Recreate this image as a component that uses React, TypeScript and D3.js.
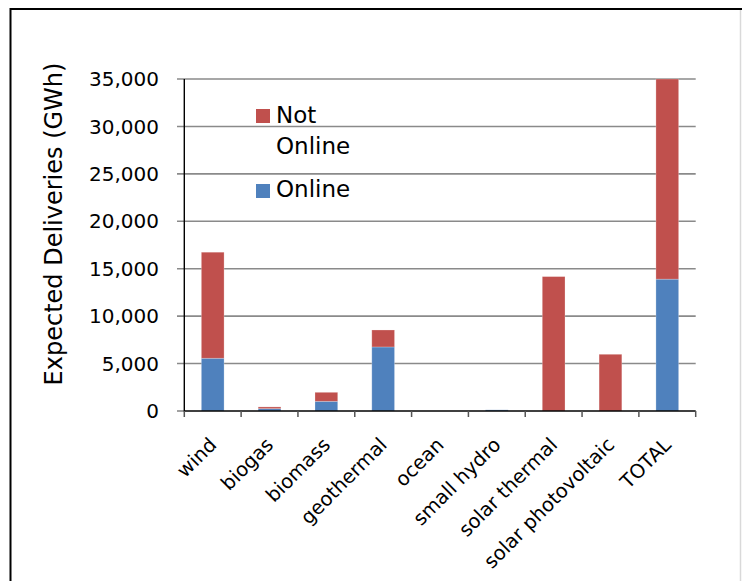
import React from "react";
import * as d3 from "d3";

const categories = ["wind", "biogas", "biomass", "geothermal", "ocean", "small hydro", "solar thermal", "solar photovoltaic", "TOTAL"];
const online = [5560, 250, 1020, 6750, 0, 120, 0, 0, 13900];
const notOnline = [11180, 180, 950, 1790, 0, 0, 14170, 5980, 21100];
const yTicks = [0, 5000, 10000, 15000, 20000, 25000, 30000, 35000];
const seriesNames = ["Not Online", "Online"];
const colors = { online: "#4F81BD", notOnline: "#C0504D" };

const FONT = "'DejaVu Sans', sans-serif";

export default function App() {
  const W = 742, H = 581;
  const x0 = 184.3, x1 = 695.7, yTop = 79, yBot = 411;
  const x = d3.scaleBand<string>().domain(categories).range([x0, x1]).padding(0);
  const y = d3.scaleLinear().domain([0, 35000]).range([yBot, yTop]);
  const bw = x.bandwidth() * 0.4;
  const fmt = d3.format(",");

  const stacked = d3.stack<number>().keys(["online", "notOnline"]).value((i, k) => (k === "online" ? online[i] : notOnline[i]))(categories.map((_, i) => i) as any);

  return (
    <svg width={W} height={H} style={{ position: "absolute", left: 0, top: 0, background: "#fff" }} fontFamily={FONT}>
      <rect x={0} y={0} width={W} height={H} fill="#fff" />
      {/* frame */}
      <line x1={10} y1={9} x2={742} y2={9} stroke="#000" strokeWidth={2} />
      <line x1={10.5} y1={8} x2={10.5} y2={H} stroke="#000" strokeWidth={2} />
      <line x1={740.5} y1={10} x2={740.5} y2={H} stroke="#d9d9d9" strokeWidth={1.5} />

      {/* gridlines */}
      {yTicks.map((t) => (
        <line key={"g" + t} x1={177} x2={t === 0 ? x0 : x1} y1={y(t)} y2={y(t)} stroke="#8a8a8a" strokeWidth={1.6} />
      ))}
      {/* y tick labels */}
      {yTicks.map((t) => (
        <text key={"yl" + t} x={159} y={y(t)} dy="0.36em" textAnchor="end" fontSize={20} fill="#000">
          {fmt(t)}
        </text>
      ))}

      {/* bars */}
      {stacked.map((s) =>
        s.map((d, i) => {
          const h = y(d[0]) - y(d[1]);
          if (h <= 0) return null;
          return (
            <rect
              key={s.key + i}
              x={(x(categories[i]) as number) + (x.bandwidth() - bw) / 2}
              y={y(d[1])}
              width={bw}
              height={h}
              fill={s.key === "online" ? colors.online : colors.notOnline}
              stroke="rgba(255,255,255,0.3)"
              strokeWidth={0.8}
            />
          );
        })
      )}

      {/* axes */}
      <line x1={x0} x2={x0} y1={yTop} y2={yBot + 0.5} stroke="#000" strokeWidth={1.4} />
      <line x1={x0} x2={x1} y1={yBot} y2={yBot} stroke="#000" strokeWidth={1.4} />
      {d3.range(categories.length + 1).map((i) => {
        const xx = x0 + i * x.step();
        return <line key={"xt" + i} x1={xx} x2={xx} y1={yBot} y2={yBot + 6} stroke="#555" strokeWidth={1.5} />;
      })}

      {/* x labels */}
      {categories.map((c) => {
        const cx = (x(c) as number) + x.bandwidth() / 2 + 5;
        const cy = 446;
        return (
          <text key={"xl" + c} transform={`translate(${cx},${cy}) rotate(-45)`} textAnchor="end" fontSize={19.5} fill="#000">
            {c}
          </text>
        );
      })}

      {/* y axis title */}
      <text transform={`translate(62,224) rotate(-90)`} textAnchor="middle" fontSize={24} fill="#000">
        Expected Deliveries (GWh)
      </text>

      {/* legend */}
      <rect x={256} y={109} width={14} height={14} fill={colors.notOnline} />
      <text x={276} y={123} fontSize={23} fill="#000">
        <tspan x={276} y={123}>{seriesNames[0].split(" ")[0]}</tspan>
        <tspan x={276} y={154}>{seriesNames[0].split(" ")[1]}</tspan>
      </text>
      <rect x={256} y={184} width={14} height={14} fill={colors.online} />
      <text x={276} y={197} fontSize={23} fill="#000">
        {seriesNames[1]}
      </text>
    </svg>
  );
}
